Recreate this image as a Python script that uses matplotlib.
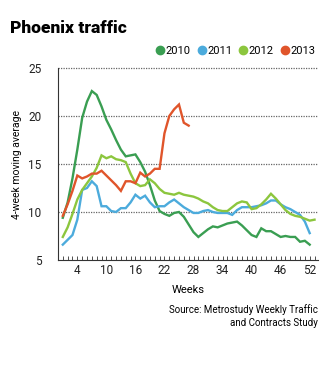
import matplotlib.pyplot as plt
from matplotlib.lines import Line2D
import numpy as np

plt.rcParams['font.family'] = ['Roboto', 'DejaVu Sans']

# 4-week moving average of weekly traffic
traffic_2010 = [9.4, 11.0, 13.5, 16.5, 19.8, 21.5, 22.6, 22.2, 21.0, 19.6,
                18.6, 17.5, 16.5, 15.8, 15.9, 16.0, 15.2, 14.2, 12.8, 11.2,
                10.1, 9.8, 9.6, 9.9, 10.0, 9.5, 8.7, 7.9, 7.4, 7.8,
                8.2, 8.5, 8.4, 8.6, 8.8, 8.9, 9.0, 8.6, 8.1, 7.6,
                7.4, 8.3, 8.0, 8.0, 7.7, 7.4, 7.5, 7.4, 7.4, 6.9,
                7.0, 6.6]
traffic_2011 = [6.6, 7.1, 7.6, 9.2, 12.3, 12.5, 13.2, 12.7, 10.6, 10.6,
                10.1, 10.0, 10.4, 10.4, 11.0, 11.8, 11.4, 11.7, 11.0, 10.5,
                10.6, 10.6, 11.0, 11.3, 10.9, 10.5, 10.2, 9.9, 9.9, 10.1,
                10.2, 10.0, 9.9, 9.9, 9.9, 9.7, 10.2, 10.5, 10.5, 10.5,
                10.6, 10.7, 10.9, 11.2, 11.2, 10.8, 10.5, 10.3, 10.0, 9.7,
                9.0, 7.8]
traffic_2012 = [7.4, 8.4, 9.8, 11.3, 12.3, 13.0, 13.7, 14.6, 15.9, 15.6,
                15.8, 15.5, 15.4, 15.2, 14.0, 13.0, 12.7, 12.8, 13.4, 13.0,
                12.4, 12.0, 11.9, 11.8, 12.0, 11.8, 11.7, 11.6, 11.4, 11.1,
                10.9, 10.5, 10.2, 10.1, 10.1, 10.5, 10.9, 11.1, 11.0, 10.3,
                10.4, 10.8, 11.3, 11.9, 11.4, 10.8, 10.2, 9.8, 9.6, 9.5,
                9.3, 9.1, 9.2]
traffic_2013 = [9.6, 10.8, 12.2, 13.8, 13.5, 13.7, 14.0, 14.0, 14.3, 13.8,
                13.3, 12.8, 12.2, 13.2, 13.2, 13.0, 14.1, 13.7, 14.0, 14.5,
                14.5, 18.2, 20.0, 20.7, 21.2, 19.3, 19.0]

years = ['2010', '2011', '2012', '2013']
series = [traffic_2010, traffic_2011, traffic_2012, traffic_2013]
colors = ['#3a9e52', '#4cabdc', '#8cc63e', '#e0552b']
xticks = [4, 10, 16, 22, 28, 34, 40, 46, 52]
yticks = [5, 10, 15, 20, 25]

fig = plt.figure(figsize=(3.35, 3.67), dpi=100)
ax = fig.add_axes([0.173, 0.2916, 0.776, 0.523])

ax.set_xlim(0, 53.7)
ax.set_ylim(5, 25)
ax.set_yticks(yticks)
ax.set_xticks(xticks)
ax.set_xticks(np.arange(1, 54), minor=True)

# dotted gridlines
for y in yticks[1:]:
    ax.axhline(y, color='#666666', linewidth=0.9, linestyle=(0, (1, 1)),
               zorder=1, clip_on=False)

for vals, c in zip(series, colors):
    weeks = np.arange(1, len(vals) + 1)
    ax.plot(weeks, vals, color=c, linewidth=1.7, solid_joinstyle='miter',
            zorder=3)

for side in ['top', 'right']:
    ax.spines[side].set_visible(False)
ax.spines['left'].set_color('#333333')
ax.spines['bottom'].set_color('#333333')
ax.spines['left'].set_linewidth(0.8)
ax.spines['bottom'].set_linewidth(0.8)
ax.tick_params(axis='y', length=0, labelsize=8.5, pad=12, colors='#222222')
ax.tick_params(axis='x', which='both', direction='in', length=3, width=0.6,
               color='#333333', labelsize=8.5, pad=3, labelcolor='#222222')

ax.set_xlabel('Weeks', fontsize=8, labelpad=6)
ax.set_ylabel('4-week moving average', fontsize=7.5, labelpad=4)

fig.text(0.03, 0.925, 'Phoenix traffic', fontsize=12.5, fontweight='black',
         ha='left', va='center')

handles = [Line2D([], [], marker='o', linestyle='none', markersize=6,
                  color=c) for c in colors]
fig.legend(handles, years, loc='center right', bbox_to_anchor=(0.955, 0.862),
           ncol=4, frameon=False, fontsize=8, handletextpad=0.0,
           columnspacing=0.5, handlelength=1.0, borderaxespad=0)

fig.text(0.948, 0.172, 'Source: Metrostudy Weekly Traffic\nand Contracts Study',
         fontsize=7, ha='right', va='top', linespacing=1.45)

plt.savefig('out.png', dpi=100)
